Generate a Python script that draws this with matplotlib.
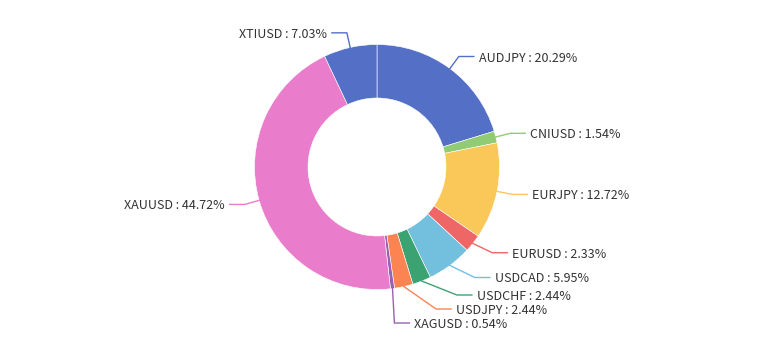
import numpy as np
import matplotlib.pyplot as plt

# data
labels = ['AUDJPY', 'CNIUSD', 'EURJPY', 'EURUSD', 'USDCAD',
          'USDCHF', 'USDJPY', 'XAGUSD', 'XAUUSD', 'XTIUSD']
shares = [20.29, 1.54, 12.72, 2.33, 5.95, 2.44, 2.44, 0.54, 44.72, 7.03]
colors = ['#5470c6', '#91cc75', '#fac858', '#ee6666', '#73c0de',
          '#3ba272', '#fc8452', '#9a60b4', '#ea7ccc', '#5470c6']

W, H = 773, 347
cx, cy = 377, 180          # pixel coords, y up
R, R_in = 122.5, 69
len1, len2, gap = 15, 15, 5
line_h = 14

plt.rcParams['font.family'] = ['Noto Sans CJK SC', 'DejaVu Sans']

fig = plt.figure(figsize=(W / 100, H / 100), dpi=100)
ax = fig.add_axes([0, 0, 1, 1])
ax.pie(shares, colors=colors, radius=R, center=(cx, cy), startangle=90,
       counterclock=False,
       wedgeprops=dict(width=R - R_in, edgecolor='white', linewidth=0.4))
ax.set_xlim(0, W)
ax.set_ylim(0, H)
ax.set_aspect('equal')
ax.axis('off')

# label layout (echarts-like: push overlapping labels, then put them on an ellipse)
vals = np.array(shares)
mid = np.cumsum(vals) - vals / 2
theta = np.deg2rad(90 - mid / vals.sum() * 360)
items = []
for i, t in enumerate(theta):
    d = 1 if np.cos(t) >= 0 else -1
    items.append(dict(i=i, dir=d,
                      x0=cx + R * np.cos(t), y0=cy + R * np.sin(t),
                      x1=cx + (R + len1) * np.cos(t), y1=cy + (R + len1) * np.sin(t)))
for it in items:
    it['ly'] = it['y1']
    it['xm'] = it['x1']

rA = R + len1
for d in (1, -1):
    side = sorted([it for it in items if it['dir'] == d], key=lambda it: -it['y1'])
    shifted = False
    for a, b in zip(side[:-1], side[1:]):
        if b['ly'] > a['ly'] - line_h:
            b['ly'] = a['ly'] - line_h
            shifted = True
    if not shifted:
        continue
    for semi in ([it for it in side if it['ly'] > cy], [it for it in side if it['ly'] <= cy]):
        if not semi:
            continue
        far = max(semi, key=lambda it: abs(it['ly'] - cy))
        dx = far['x1'] - cx
        dy = abs(far['ly'] - cy)
        rB = dy / np.sqrt(1 - dx * dx / rA / rA) if abs(dx) < rA else rA
        for it in semi:
            dyi = abs(it['ly'] - cy)
            it['xm'] = cx + d * np.sqrt(max(0.0, 1 - dyi * dyi / rB / rB)) * rA

for it in items:
    i, d = it['i'], it['dir']
    xe = it['xm'] + d * len2
    ax.plot([it['x0'], it['xm'], xe], [it['y0'], it['ly'], it['ly']],
            color=colors[i], lw=1, solid_joinstyle='miter')
    ax.text(xe + d * gap, it['ly'], f'{labels[i]} : {shares[i]:.2f}%',
            ha='left' if d > 0 else 'right', va='center_baseline',
            fontsize=9, color='#333333')

fig.savefig('out.png', dpi=100)
